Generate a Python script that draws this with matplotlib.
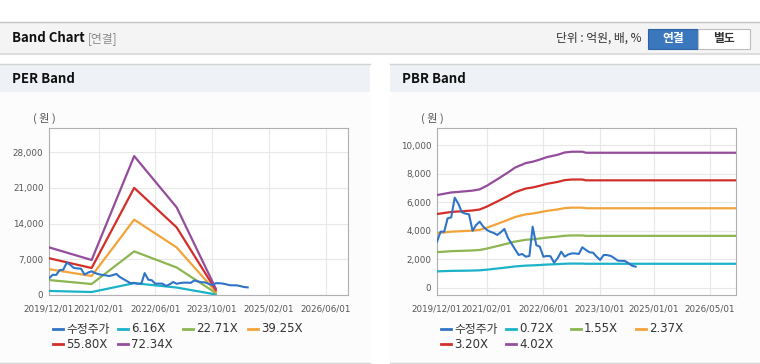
import matplotlib
matplotlib.use("Agg")
import matplotlib.pyplot as plt
from matplotlib.patches import Rectangle
from matplotlib.lines import Line2D
import pandas as pd

plt.rcParams["font.family"] = ["DejaVu Sans", "Noto Sans CJK KR"]

# ---- dados ----
price_dates = pd.date_range("2019-12-01", periods=57, freq="MS")
price = [3240, 3940, 3940, 4870, 4940, 6320, 5900, 5300, 5200, 5150,
         4000, 4400, 4640, 4290, 4060, 3940, 3850, 3710, 3900, 4130,
         3500, 3100, 2700, 2310, 2380, 2190, 2240, 4290, 3000, 2890,
         2190, 2240, 2220, 1770, 2080, 2540, 2190, 2350, 2420, 2420,
         2380, 2850, 2660, 2500, 2470, 2190, 1960, 2310, 2300, 2240,
         2080, 1910, 1900, 1890, 1730, 1560, 1490]

per_dates = pd.to_datetime(["2019-12-01", "2020-12-01", "2021-12-01",
                            "2022-12-01", "2023-11-01"])
per_labels = ["6.16X", "22.71X", "39.25X", "55.80X", "72.34X"]
per_616 = [795, 583, 2316, 1460, 108]
per_2271 = [2930, 2151, 8539, 5382, 400]
per_3925 = [5063, 3717, 14758, 9302, 691]
per_5580 = [7198, 5284, 20981, 13225, 982]
per_7234 = [9332, 6851, 27200, 17145, 1273]

pbr_dates = pd.to_datetime(["2019-12-01", "2020-04-01", "2020-07-01", "2020-10-01",
                            "2020-12-01", "2021-02-01", "2021-05-01", "2021-08-01",
                            "2021-10-01", "2022-01-01", "2022-03-01", "2022-05-01",
                            "2022-07-01", "2022-10-01", "2022-12-01", "2023-02-01",
                            "2023-05-01", "2023-06-01", "2026-12-10"])
pbr_labels = ["0.72X", "1.55X", "2.37X", "3.20X", "4.02X"]
pbr_072 = [1164, 1197, 1207, 1220, 1236, 1281, 1362, 1447, 1508, 1565, 1582,
           1608, 1639, 1669, 1698, 1707, 1707, 1694, 1694]
pbr_155 = [2506, 2576, 2599, 2626, 2660, 2757, 2931, 3116, 3247, 3370, 3405,
           3463, 3528, 3593, 3655, 3675, 3675, 3647, 3647]
pbr_237 = [3832, 3939, 3974, 4015, 4067, 4216, 4482, 4764, 4965, 5152, 5207,
           5295, 5394, 5494, 5588, 5619, 5619, 5577, 5577]
pbr_320 = [5174, 5318, 5366, 5421, 5491, 5693, 6051, 6432, 6704, 6957, 7030,
           7149, 7283, 7418, 7546, 7587, 7587, 7530, 7530]
pbr_402 = [6500, 6681, 6742, 6810, 6898, 7152, 7602, 8080, 8422, 8739, 8832,
           8981, 9150, 9318, 9479, 9531, 9531, 9459, 9459]

per_ticks = ["2019/12/01", "2021/02/01", "2022/06/01", "2023/10/01", "2025/02/01", "2026/06/01"]
pbr_ticks = ["2019/12/01", "2021/02/01", "2022/06/01", "2023/10/01", "2025/01/01", "2026/05/01"]
per_yticks = [0, 7000, 14000, 21000, 28000]
pbr_yticks = [0, 2000, 4000, 6000, 8000, 10000]

cor_preco = "#2f74c6"
cores = ["#1cb2c8", "#8db551", "#f2a43a", "#d22f2a", "#944d9b"]

W, H = 760, 364
fig = plt.figure(figsize=(W / 100, H / 100), dpi=100)
KR = ["Noto Sans CJK KR"]


def fx(x):
    return x / W


def fy(y):
    return 1 - y / H


def rect(x0, y0, x1, y1, fc, ec="none", lw=0):
    fig.patches.append(Rectangle((fx(x0), fy(y1)), (x1 - x0) / W, (y1 - y0) / H,
                                 transform=fig.transFigure, fc=fc, ec=ec, lw=lw, zorder=-5))


def hline(x0, x1, y, c, lw=1):
    fig.add_artist(Line2D([fx(x0), fx(x1)], [fy(y), fy(y)], color=c, lw=lw,
                          transform=fig.transFigure, zorder=-4))


# barra superior
rect(0, 22, W, 54, "#f4f4f4")
hline(0, W, 22, "#c4c4c4")
hline(0, W, 54, "#dedede", 1.5)
fig.text(fx(12), fy(38.5), "Band Chart", fontsize=9.5, fontweight="bold",
         family=KR, va="center", color="#111")
fig.text(fx(88), fy(38.5), "[연결]", fontsize=8.5, family=KR,
         va="center", color="#8a8a8a")
fig.text(fx(642), fy(38.5), "단위 : 억원, 배, %", fontsize=8.5,
         family=KR, va="center", ha="right", color="#333")
rect(648, 29, 698, 49, "#3a77bd", ec="#2d63a3", lw=0.8)
rect(698, 29, 750, 49, "#ffffff", ec="#bdbdbd", lw=0.8)
fig.text(fx(673), fy(38.5), "연결", fontsize=8.5, fontweight="bold",
         family=KR, va="center", ha="center", color="white")
fig.text(fx(724), fy(38.5), "별도", fontsize=8.5, fontweight="bold",
         family=KR, va="center", ha="center", color="#333")

# paineis
for x0, x1, titulo in [(0, 370, "PER Band"), (390, W, "PBR Band")]:
    rect(x0, 64, x1, 92, "#eef2f7")
    rect(x0, 92, x1, 363, "#fcfcfc")
    hline(x0, x1, 64, "#d2d2d2")
    hline(x0, x1, 363, "#d6d6d6")
    fig.text(fx(x0 + 12), fy(79), titulo, fontsize=9.5, fontweight="bold",
             family=KR, va="center", color="#111")


def monta_eixo(left, ymin, ymax, yticks, ticks, bandas, labels):
    ax = fig.add_axes([fx(left), fy(295), 299 / W, 167 / H])
    ax.set_zorder(2)
    ax.set_facecolor("white")
    ax.plot(price_dates, price, color=cor_preco, lw=1.5, zorder=4)
    datas, series = bandas
    for s, c in zip(series, cores):
        ax.plot(datas, s, color=c, lw=1.6, zorder=3)
    ax.set_xlim(pd.Timestamp("2019-12-01"), pd.Timestamp("2026-12-10"))
    ax.set_ylim(ymin, ymax)
    ax.set_yticks(yticks)
    ax.set_yticklabels([f"{v:,}" for v in yticks])
    ax.set_xticks(pd.to_datetime(ticks, format="%Y/%m/%d"))
    ax.set_xticklabels(ticks)
    ax.tick_params(length=0, labelsize=6.3, colors="#555")
    ax.tick_params(axis="x", pad=7)
    ax.tick_params(axis="y", pad=4)
    ax.grid(True, color="#e8e8e8", lw=0.8)
    ax.set_axisbelow(True)
    for sp in ax.spines.values():
        sp.set_color("#b0b0b0")
    fig.text(fx(left - 16), fy(118), "( 원 )", fontsize=8,
             family=KR, va="center", color="#555")

    # legenda
    itens = [("수정주가", cor_preco)] + list(zip(labels, cores))
    colx = [left + 4, left + 69, left + 134, left + 199]
    for i, (txt, c) in enumerate(itens):
        x = colx[i % 4]
        y = 329 if i < 4 else 344
        fig.add_artist(Line2D([fx(x), fx(x + 10)], [fy(y), fy(y)], color=c, lw=2,
                              transform=fig.transFigure))
        fig.text(fx(x + 13), fy(y), txt, fontsize=8.5, va="center", color="#333")
    return ax


monta_eixo(49, 0, 32700, per_yticks, per_ticks,
           (per_dates, [per_616, per_2271, per_3925, per_5580, per_7234]), per_labels)
monta_eixo(437, -490, 11190, pbr_yticks, pbr_ticks,
           (pbr_dates, [pbr_072, pbr_155, pbr_237, pbr_320, pbr_402]), pbr_labels)

fig.savefig("out.png", dpi=100)
